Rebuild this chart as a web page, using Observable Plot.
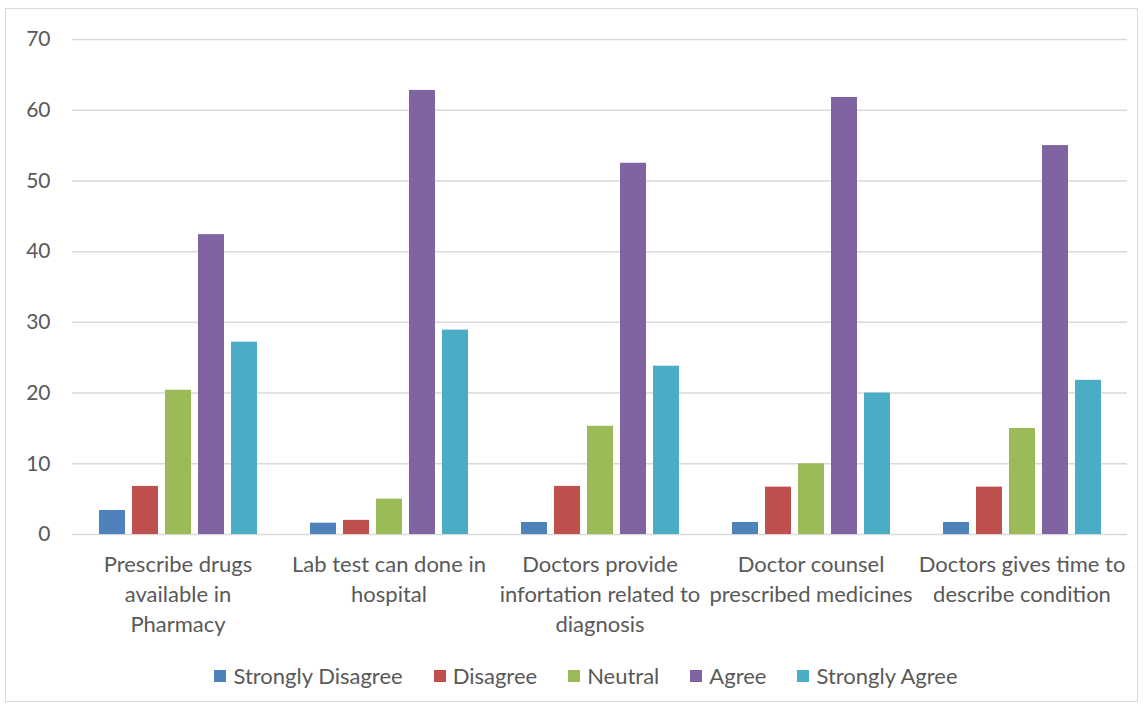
<!DOCTYPE html>
<html>
<head>
<meta charset="utf-8">
<script src="https://cdn.jsdelivr.net/npm/d3@7"></script>
<script src="https://cdn.jsdelivr.net/npm/@observablehq/plot@0.6"></script>
<style>
  html, body { margin: 0; padding: 0; background: #fff; }
  #wrap { position: relative; width: 1146px; height: 709px; overflow: hidden; font-family: Lato, "Open Sans", sans-serif; }
  #frame { position: absolute; left: 5px; top: 8px; width: 1133px; height: 694px; border: 1px solid #d9d9d9; box-sizing: border-box; pointer-events: none; }
  #chart { position: absolute; left: 0; top: 0; }
  #legend { position: absolute; left: 0; width: 1172px; top: 662px; display: flex; justify-content: center; gap: 31px; font-size: 22px; color: #595959; }
  .item { display: flex; align-items: center; gap: 7px; }
  .sw { width: 12px; height: 12px; display: inline-block; }
</style>
</head>
<body>
<div id="wrap">
  <div id="frame"></div>
  <div id="chart"></div>
  <div id="legend"></div>
</div>
<script>
const categories = [
  "Prescribe drugs\navailable in\nPharmacy",
  "Lab test can done in\nhospital",
  "Doctors provide\ninfortation related to\ndiagnosis",
  "Doctor counsel\nprescribed medicines",
  "Doctors gives time to\ndescribe condition"
];
const series = ["Strongly Disagree", "Disagree", "Neutral", "Agree", "Strongly Agree"];
const colors = ["#4f81bd", "#c0504d", "#9bbb59", "#8064a2", "#4bacc6"];
const stronglyDisagree = [3.4, 1.6, 1.7, 1.7, 1.7];
const disagree = [6.8, 2.0, 6.8, 6.7, 6.7];
const neutral = [20.4, 5.0, 15.3, 10.0, 15.0];
const agree = [42.4, 62.8, 52.5, 61.8, 55.0];
const stronglyAgree = [27.2, 28.9, 23.8, 20.0, 21.8];
const yTicks = [0, 10, 20, 30, 40, 50, 60, 70];

const seriesValues = [stronglyDisagree, disagree, neutral, agree, stronglyAgree];
const data = [];
categories.forEach((c, i) => {
  series.forEach((s, j) => data.push({category: c, series: s, value: seriesValues[j][i]}));
});

const chart = Plot.plot({
  width: 1146,
  height: 655,
  marginTop: 39,
  marginBottom: 121,
  marginLeft: 70,
  marginRight: 17,
  style: {fontFamily: "Lato, 'Open Sans', sans-serif", background: "transparent"},
  fx: {domain: categories, padding: 0, label: null},
  x: {domain: series, paddingInner: 0.22, paddingOuter: 0.8, axis: null},
  y: {domain: [0, 70], label: null},
  color: {domain: series, range: colors},
  marks: [
    Plot.ruleY(yTicks, {stroke: "#d9d9d9", strokeWidth: 1.5, strokeOpacity: 1}),
    Plot.barY(data, {fx: "category", x: "series", y: "value", fill: "series"}),
    Plot.axisY({ticks: yTicks, tickSize: 0, tickPadding: 22, fontSize: 21, color: "#595959", label: null}),
    Plot.axisFx({anchor: "bottom", tickSize: 0, tickPadding: 16, fontSize: 22, lineHeight: 1.36, color: "#595959", label: null})
  ]
});
document.getElementById("chart").appendChild(chart);

const legend = document.getElementById("legend");
series.forEach((s, j) => {
  const it = document.createElement("div");
  it.className = "item";
  const sw = document.createElement("span");
  sw.className = "sw";
  sw.style.background = colors[j];
  const t = document.createElement("span");
  t.textContent = s;
  it.appendChild(sw); it.appendChild(t);
  legend.appendChild(it);
});
</script>
</body>
</html>
